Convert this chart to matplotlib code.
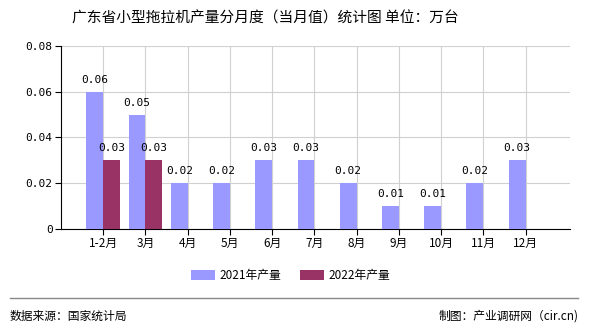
import matplotlib
matplotlib.use("Agg")
import matplotlib.pyplot as plt
import numpy as np

plt.rcParams['font.family'] = ['Noto Sans CJK SC', 'DejaVu Sans']

months = ['1-2月', '3月', '4月', '5月', '6月', '7月', '8月', '9月', '10月', '11月', '12月']
prod_2021 = [0.06, 0.05, 0.02, 0.02, 0.03, 0.03, 0.02, 0.01, 0.01, 0.02, 0.03]
prod_2022 = [0.03, 0.03]
yticks = [0, 0.02, 0.04, 0.06, 0.08]
ytick_labels = ['0', '0.02', '0.04', '0.06', '0.08']

fig = plt.figure(figsize=(5.9, 3.3), dpi=100)
ax = fig.add_axes([0.1034, 0.306, 0.8626, 0.555])

x = np.arange(len(months))
w = 0.4
b1 = ax.bar(x - w / 2, prod_2021, w, color='#9999FF', label='2021年产量', zorder=3)
x2 = np.arange(len(prod_2022))
b2 = ax.bar(x2 + w / 2, prod_2022, w, color='#993366', label='2022年产量', zorder=3)

for xi, v in zip(x - w / 2, prod_2021):
    ax.text(xi, v + 0.003, f'{v:.2f}', ha='center', va='bottom', fontsize=8,
            family='DejaVu Sans Mono', zorder=4)
for xi, v in zip(x2 + w / 2, prod_2022):
    ax.text(xi, v + 0.003, f'{v:.2f}', ha='center', va='bottom', fontsize=8,
            family='DejaVu Sans Mono', zorder=4)

ax.set_xlim(-1, 11.05)
ax.set_ylim(0, 0.08)
ax.set_xticks(x)
ax.set_xticklabels(months, fontsize=8.5)
ax.set_yticks(yticks)
ax.set_yticklabels(ytick_labels, fontsize=8, family='DejaVu Sans Mono')
ax.grid(True, color='#d0d0d0', linewidth=0.8, zorder=0)
for s in ['top', 'right']:
    ax.spines[s].set_visible(False)
ax.spines['left'].set_color('black')
ax.spines['bottom'].set_color('black')
ax.tick_params(axis='both', length=4, width=0.8, direction='out', pad=2)

fig.text(0.449, 0.945, '广东省小型拖拉机产量分月度（当月值）统计图 单位：万台',
         ha='center', va='center', fontsize=10.6)

fig.legend(handles=[b1, b2], loc='center', bbox_to_anchor=(0.493, 0.165), ncol=2,
           frameon=False, fontsize=8.5, handlelength=2.0, handleheight=0.9,
           handletextpad=0.4, columnspacing=1.6)

fig.add_artist(plt.Line2D([0.017, 0.98], [0.097, 0.097], color='#888888', linewidth=1))
fig.text(0.017, 0.042, '数据来源：国家统计局', ha='left', va='center', fontsize=8.5)
fig.text(0.98, 0.042, '制图：产业调研网（cir.cn)', ha='right', va='center', fontsize=8.5)

fig.savefig('out.png', dpi=100)
